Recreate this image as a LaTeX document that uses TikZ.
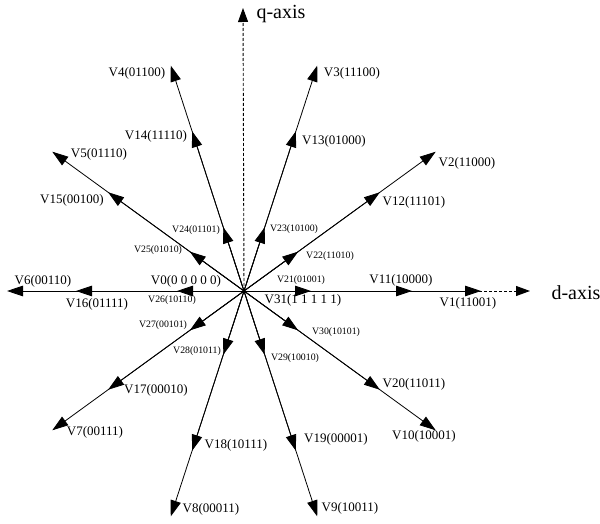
\documentclass[tikz,border=0pt]{standalone}
\usepackage{fontspec}
\setmainfont{Liberation Serif}
\usetikzlibrary{arrows.meta}
\begin{document}
\begin{tikzpicture}[x=1pt,y=1pt,
  vec/.style={line width=0.8pt,-{Triangle[length=16pt,width=10.5pt]}},
  axisline/.style={line width=0.9pt,dash pattern=on 3pt off 2pt,-{Triangle[length=14pt,width=10pt]}},
  big/.style={inner sep=0pt,font=\fontsize{13}{15}\selectfont},
  small/.style={inner sep=0pt,font=\fontsize{9.8}{11}\selectfont},
  axlab/.style={inner sep=0pt,font=\fontsize{20}{24}\selectfont}]
\useasboundingbox (0,0) rectangle (600,523);
\coordinate (O) at (244,232);
\coordinate (qtip) at (243,515);
\coordinate (dtip) at (530,232);
\draw[axisline] (O) -- (qtip);
\draw[axisline] (O) -- (dtip);
% large vectors
\foreach \n/\a in {1/0,2/36,3/72,4/108,5/144,6/180,7/216,8/252,9/288,10/324}{
  \path (O) ++(\a:237) coordinate (t\n);
  \draw[vec] (O) -- (t\n);
}
% medium vectors
\foreach \n/\a in {11/0,12/36,13/72,14/108,15/144,16/180,17/216,18/252,19/288,20/324}{
  \path (O) ++(\a:168) coordinate (t\n);
  \draw[vec] (O) -- (t\n);
}
% small vectors
\foreach \n/\a in {21/0,22/36,23/72,24/108,25/144,26/180,27/216,28/252,29/288,30/324}{
  \path (O) ++(\a:67) coordinate (t\n);
  \draw[vec] (O) -- (t\n);
}
% labels
\node[axlab] (lq) at (281,509) {q-axis};
\node[axlab] (ld) at (576,230) {d-axis};
\node[big] (l1) at (468,220) {V1(11001)};
\node[big] (l2) at (467,360) {V2(11000)};
\node[big] (l3) at (352,450) {V3(11100)};
\node[big] (l4) at (137,450) {V4(01100)};
\node[big] (l5) at (99,369) {V5(01110)};
\node[big] (l6) at (43,242) {V6(00110)};
\node[big] (l7) at (95,91) {V7(00111)};
\node[big] (l8) at (211,14) {V8(00011)};
\node[big] (l9) at (350,15) {V9(10011)};
\node[big] (l10) at (424,87) {V10(10001)};
\node[big] (l11) at (401,243) {V11(10000)};
\node[big] (l12) at (414,321) {V12(11101)};
\node[big] (l13) at (334,382) {V13(01000)};
\node[big] (l14) at (156,387) {V14(11110)};
\node[big] (l15) at (72,323) {V15(00100)};
\node[big] (l16) at (97,219) {V16(01111)};
\node[big] (l17) at (156,133) {V17(00010)};
\node[big] (l18) at (236,78) {V18(10111)};
\node[big] (l19) at (336,84) {V19(00001)};
\node[big] (l20) at (414,139) {V20(11011)};
\node[small] (l21) at (301,243) {V21(01001)};
\node[small] (l22) at (330,267) {V22(11010)};
\node[small] (l23) at (294,294) {V23(10100)};
\node[small] (l24) at (196,293) {V24(01101)};
\node[small] (l25) at (158,273) {V25(01010)};
\node[small] (l26) at (172,223) {V26(10110)};
\node[small] (l27) at (163,198) {V27(00101)};
\node[small] (l28) at (197,172) {V28(01011)};
\node[small] (l29) at (295,165) {V29(10010)};
\node[small] (l30) at (336,191) {V30(10101)};
\node[big] (l0) at (186,242) {V0(0 0 0 0 0)};
\node[big] (l31) at (303,223) {V31(1 1 1 1 1)};
\end{tikzpicture}
\end{document}
